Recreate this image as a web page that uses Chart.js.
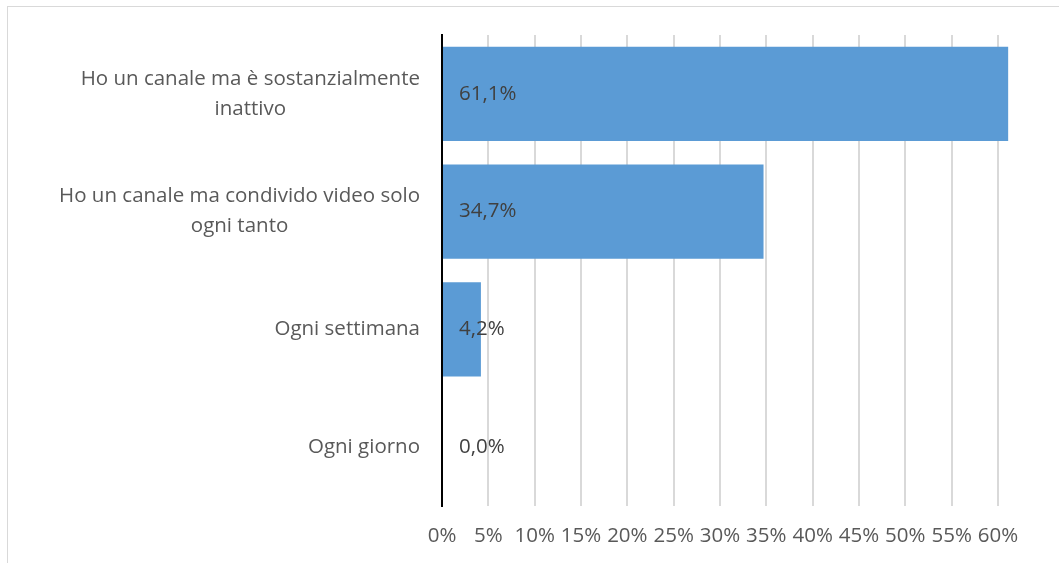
<!DOCTYPE html>
<html lang="it">
<head>
<meta charset="utf-8">
<title>Frequenza di pubblicazione</title>
<script src="https://cdn.jsdelivr.net/npm/chart.js@4.4.1/dist/chart.umd.min.js"></script>
<style>
    html, body { margin: 0; padding: 0; background: #ffffff; overflow: hidden; }
    .frame { position: absolute; left: 7px; top: 6px; width: 1100px; height: 700px; border: 1px solid #d9d9d9; }
    canvas { position: absolute; left: 0; top: 0; }
</style>
</head>
<body>
<div class="frame"></div>
<canvas id="freqChart" width="1059" height="563"></canvas>
<script>
// categorie dall'alto verso il basso
const categories = [
    ['Ho un canale ma è sostanzialmente', 'inattivo'],
    ['Ho un canale ma condivido video solo', 'ogni tanto'],
    ['Ogni settimana'],
    ['Ogni giorno']
];
const percentages = [61.1, 34.7, 4.2, 0.0];
const tickValues = [0, 5, 10, 15, 20, 25, 30, 35, 40, 45, 50, 55, 60];

const FONT = '"Open Sans", Lato, sans-serif';
const FONT_SIZE = 20.5;
const TEXT_GREY = '#595959';

function fmtPct(v) {
    return v.toFixed(1).replace('.', ',') + '%';
}

// etichette delle categorie, righe centrate tra loro e allineate a destra
const categoryLabels = {
    id: 'categoryLabels',
    afterDraw(chart) {
        const ctx = chart.ctx;
        const yScale = chart.scales.y;
        const rightEdge = chart.chartArea.left - 22;
        const lineH = 30;
        ctx.save();
        ctx.font = FONT_SIZE + 'px ' + FONT;
        ctx.fillStyle = TEXT_GREY;
        ctx.textAlign = 'center';
        ctx.textBaseline = 'middle';
        categories.forEach((lines, i) => {
            const cy = yScale.getPixelForValue(i);
            const maxW = Math.max(...lines.map(l => ctx.measureText(l).width));
            const cx = rightEdge - maxW / 2;
            const y0 = cy - (lines.length - 1) * lineH / 2;
            lines.forEach((l, j) => ctx.fillText(l, cx, y0 + j * lineH));
        });
        ctx.restore();
    }
};

// valori scritti all'inizio di ogni barra
const valueLabels = {
    id: 'valueLabels',
    afterDatasetsDraw(chart) {
        const ctx = chart.ctx;
        const meta = chart.getDatasetMeta(0);
        const x0 = chart.scales.x.getPixelForValue(0);
        ctx.save();
        ctx.font = FONT_SIZE + 'px ' + FONT;
        ctx.fillStyle = '#404040';
        ctx.textAlign = 'left';
        ctx.textBaseline = 'middle';
        meta.data.forEach((bar, i) => {
            ctx.fillText(fmtPct(percentages[i]), x0 + 17, bar.y);
        });
        ctx.restore();
    }
};

new Chart(document.getElementById('freqChart'), {
    type: 'bar',
    data: {
        labels: categories.map(c => c.join(' ')),
        datasets: [{
            data: percentages,
            backgroundColor: '#5b9bd5',
            borderWidth: 0,
            barPercentage: 0.8,
            categoryPercentage: 1.0
        }]
    },
    options: {
        indexAxis: 'y',
        responsive: false,
        animation: false,
        layout: { padding: { left: 0, right: 42.5, top: 35, bottom: 0 } },
        plugins: {
            legend: { display: false },
            tooltip: { enabled: false }
        },
        scales: {
            x: {
                min: 0,
                max: 62,
                afterBuildTicks(scale) {
                    scale.ticks = tickValues.map(v => ({ value: v }));
                },
                afterFit(scale) { scale.height = 57; },
                grid: { color: '#d9d9d9', lineWidth: 2, drawTicks: false },
                border: { display: false },
                ticks: {
                    padding: 18,
                    color: TEXT_GREY,
                    font: { family: FONT, size: FONT_SIZE },
                    maxRotation: 0,
                    autoSkip: false,
                    callback: v => v + '%'
                }
            },
            y: {
                afterFit(scale) { scale.width = 442; },
                grid: { display: false, drawTicks: false },
                border: { color: '#000000', width: 2 },
                ticks: { display: false }
            }
        }
    },
    plugins: [categoryLabels, valueLabels]
});
</script>
</body>
</html>
